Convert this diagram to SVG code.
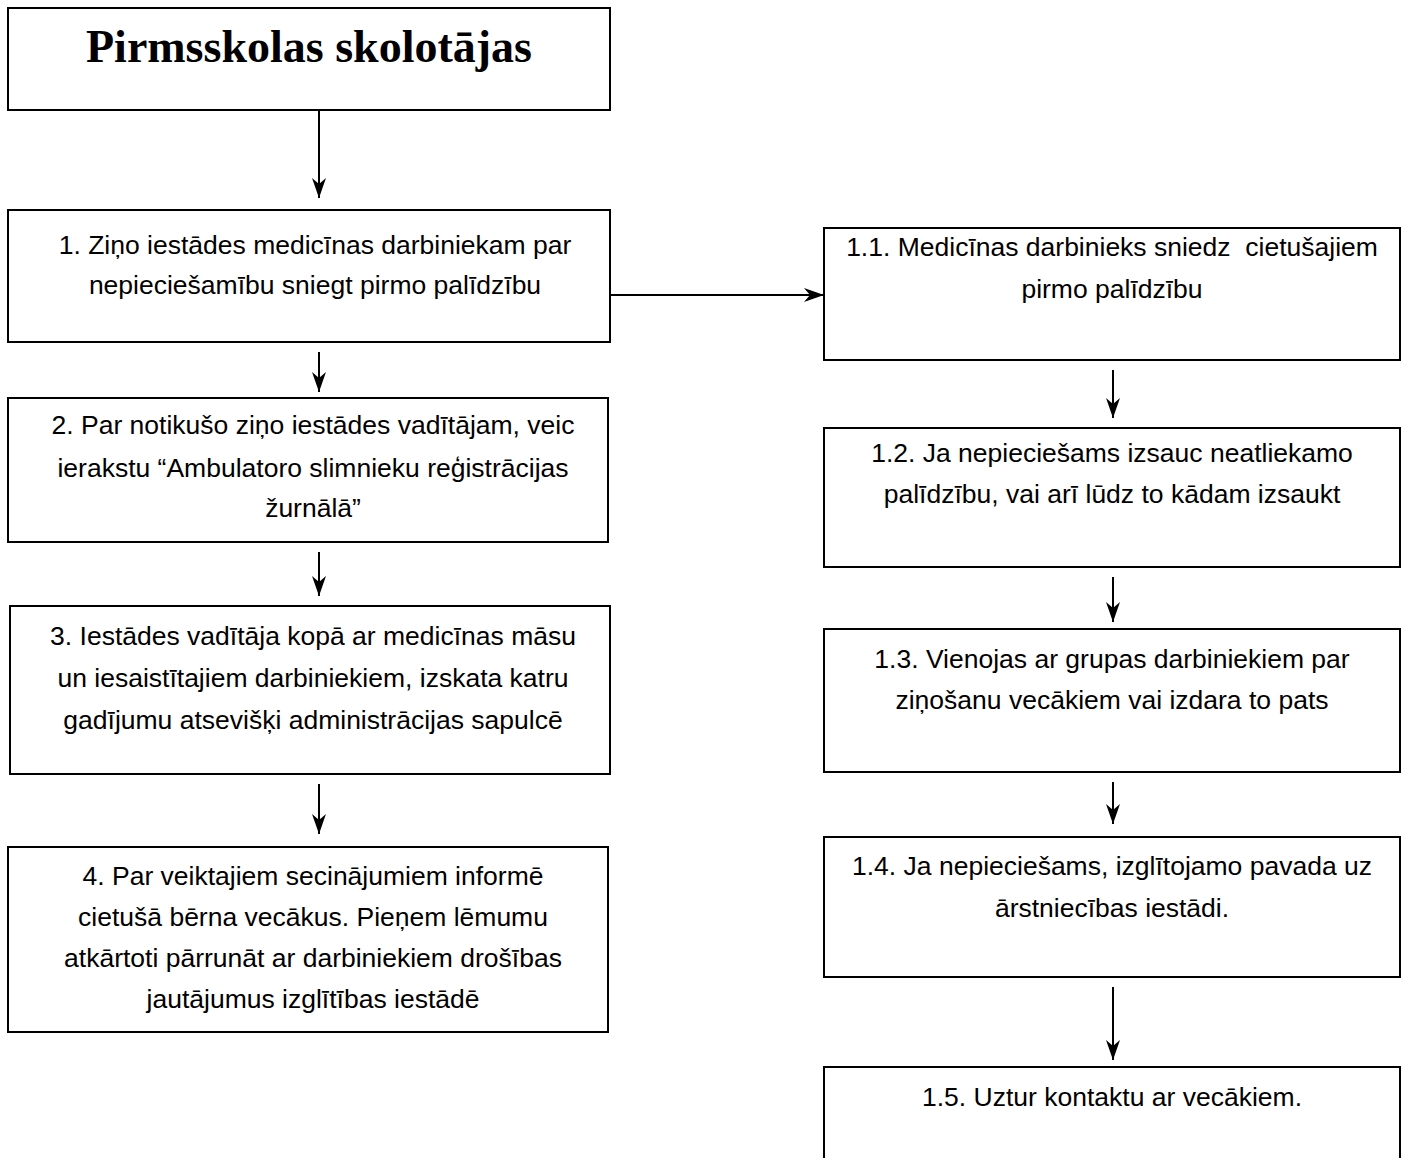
<svg xmlns="http://www.w3.org/2000/svg" width="1411" height="1158" viewBox="0 0 1411 1158">
<defs>
<marker id="ah" viewBox="0 0 20 14" refX="20" refY="7" markerWidth="20" markerHeight="14" markerUnits="userSpaceOnUse" orient="auto">
<path d="M0,0 L20,7 L0,14 L6,7 Z" fill="#000"/>
</marker>
<style>
.box{fill:#fff;stroke:#000;stroke-width:2}
.t{font-family:"Liberation Sans",Arial,sans-serif;font-size:26.5px;fill:#000;text-anchor:middle;white-space:pre}
.title{font-family:"Liberation Serif","Times New Roman",serif;font-weight:bold;font-size:46px;fill:#000;text-anchor:middle}
.c{stroke:#000;stroke-width:2;fill:none;marker-end:url(#ah)}
</style>
</defs>
<rect width="1411" height="1158" fill="#fff"/>
<g id="connectors">
<line class="c" x1="319" y1="110" x2="319" y2="198"/>
<line class="c" x1="610" y1="295" x2="824" y2="295"/>
<line class="c" x1="319" y1="352" x2="319" y2="392"/>
<line class="c" x1="319" y1="552" x2="319" y2="596"/>
<line class="c" x1="319" y1="784" x2="319" y2="834"/>
<line class="c" x1="1113" y1="370" x2="1113" y2="418"/>
<line class="c" x1="1113" y1="577" x2="1113" y2="622"/>
<line class="c" x1="1113" y1="782" x2="1113" y2="824"/>
<line class="c" x1="1113" y1="987" x2="1113" y2="1060"/>
</g>
<g id="title">
<rect class="box" x="8" y="8" width="602" height="102"/>
<text class="title" x="309" y="62">Pirmsskolas skolotājas</text>
</g>
<g id="n1">
<rect class="box" x="8" y="210" width="602" height="132"/>
<text class="t" x="315" y="254">1. Ziņo iestādes medicīnas darbiniekam par</text>
<text class="t" x="315" y="294">nepieciešamību sniegt pirmo palīdzību</text>
</g>
<g id="n2">
<rect class="box" x="8" y="398" width="600" height="144"/>
<text class="t" x="313" y="434">2. Par notikušo ziņo iestādes vadītājam, veic</text>
<text class="t" x="313" y="477">ierakstu “Ambulatoro slimnieku reģistrācijas</text>
<text class="t" x="313" y="517">žurnālā”</text>
</g>
<g id="n3">
<rect class="box" x="10" y="606" width="600" height="168"/>
<text class="t" x="313" y="645">3. Iestādes vadītāja kopā ar medicīnas māsu</text>
<text class="t" x="313" y="687">un iesaistītajiem darbiniekiem, izskata katru</text>
<text class="t" x="313" y="729">gadījumu atsevišķi administrācijas sapulcē</text>
</g>
<g id="n4">
<rect class="box" x="8" y="847" width="600" height="185"/>
<text class="t" x="313" y="885">4. Par veiktajiem secinājumiem informē</text>
<text class="t" x="313" y="926">cietušā bērna vecākus. Pieņem lēmumu</text>
<text class="t" x="313" y="967">atkārtoti pārrunāt ar darbiniekiem drošības</text>
<text class="t" x="313" y="1008">jautājumus izglītības iestādē</text>
</g>
<g id="n11">
<rect class="box" x="824" y="228" width="576" height="132"/>
<text class="t" x="1112" y="256" xml:space="preserve">1.1. Medicīnas darbinieks sniedz  cietušajiem</text>
<text class="t" x="1112" y="298">pirmo palīdzību</text>
</g>
<g id="n12">
<rect class="box" x="824" y="428" width="576" height="139"/>
<text class="t" x="1112" y="462">1.2. Ja nepieciešams izsauc neatliekamo</text>
<text class="t" x="1112" y="503">palīdzību, vai arī lūdz to kādam izsaukt</text>
</g>
<g id="n13">
<rect class="box" x="824" y="629" width="576" height="143"/>
<text class="t" x="1112" y="668">1.3. Vienojas ar grupas darbiniekiem par</text>
<text class="t" x="1112" y="709">ziņošanu vecākiem vai izdara to pats</text>
</g>
<g id="n14">
<rect class="box" x="824" y="837" width="576" height="140"/>
<text class="t" x="1112" y="875">1.4. Ja nepieciešams, izglītojamo pavada uz</text>
<text class="t" x="1112" y="917">ārstniecības iestādi.</text>
</g>
<g id="n15">
<rect class="box" x="824" y="1067" width="576" height="120"/>
<text class="t" x="1112" y="1106">1.5. Uztur kontaktu ar vecākiem.</text>
</g>
</svg>
